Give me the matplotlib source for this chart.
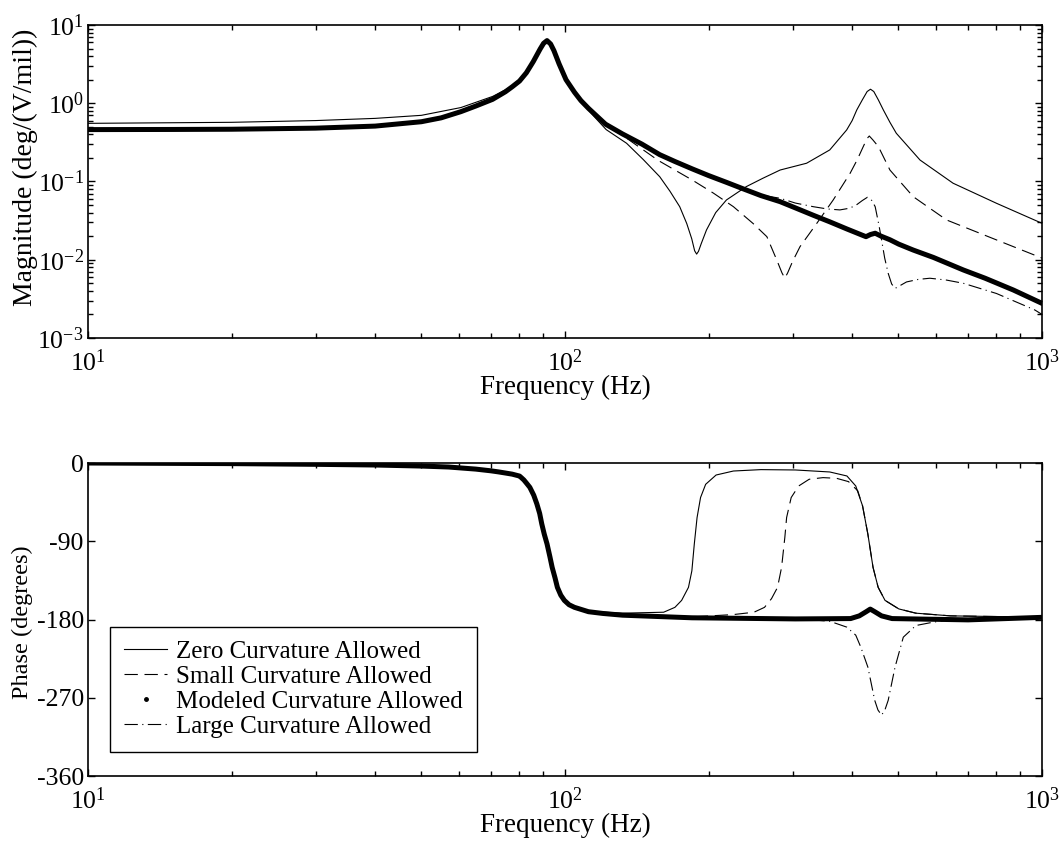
import numpy as np
import matplotlib.pyplot as plt
from matplotlib.lines import Line2D
from matplotlib.ticker import LogLocator, FixedLocator, NullFormatter

plt.rcParams['font.family'] = ['Liberation Serif', 'DejaVu Serif']
plt.rcParams['mathtext.fontset'] = 'custom'
plt.rcParams['mathtext.rm'] = 'Liberation Serif'
plt.rcParams['axes.unicode_minus'] = False
plt.rcParams['font.size'] = 18

# ---- magnitude data (Hz, deg/(V/mil)) ----
f_mag_zero = [10, 20, 30, 40, 50, 60.5, 70.5, 75, 77.5, 80.3, 83, 85.8, 88.7, 90.2, 91.7,
              93.3, 94.8, 97.2, 100.5, 104.7, 108, 115, 122, 134.6, 146, 158, 166, 174, 180,
              184.4, 187, 188.8, 190.5, 193, 198, 207, 218, 240, 260, 282.5, 321, 359,
              389.5, 400, 409, 420, 430, 437, 444, 454, 465, 480, 495, 555, 651, 803, 1000]
mag_zero = [0.553, 0.57, 0.60, 0.64, 0.70, 0.88, 1.22, 1.48, 1.66, 1.94, 2.45, 3.40, 4.93,
            5.83, 6.31, 5.71, 4.70, 3.18, 2.0, 1.38, 1.05, 0.68, 0.46, 0.308, 0.19, 0.115,
            0.075, 0.0476, 0.029, 0.0185, 0.013, 0.0118, 0.0128, 0.016, 0.024, 0.04, 0.058,
            0.086, 0.11, 0.14, 0.171, 0.253, 0.455, 0.6, 0.82, 1.10, 1.41, 1.51, 1.41, 1.10,
            0.82, 0.57, 0.413, 0.188, 0.095, 0.0526, 0.0292]

f_mag_small = [10, 20, 30, 40, 50, 60.5, 70.5, 75, 77.5, 80.3, 83, 85.8, 88.7, 90.2, 91.7,
               93.3, 94.8, 97.2, 100.5, 104.7, 108, 112, 121.6, 132.3, 157, 185, 204.7,
               225.5, 248, 265, 278, 285, 289, 293, 300, 311, 337, 365, 396, 410, 422, 430,
               434.5, 442, 454, 480, 537, 631, 803, 1000]
mag_small = [0.46, 0.465, 0.48, 0.51, 0.58, 0.78, 1.12, 1.40, 1.62, 1.92, 2.45, 3.40, 4.93,
             5.83, 6.31, 5.71, 4.70, 3.18, 2.0, 1.38, 1.08, 0.86, 0.52, 0.385, 0.185, 0.104,
             0.071, 0.0476, 0.029, 0.0197, 0.0099, 0.0068, 0.0058, 0.0068, 0.0095, 0.0147,
             0.029, 0.058, 0.127, 0.19, 0.279, 0.355, 0.381, 0.34, 0.279, 0.14, 0.064,
             0.0322, 0.0179, 0.0105]

f_mag_model = [10, 15, 20, 30, 40, 50, 55, 60.5, 65, 70.5, 75, 77.5, 80.3, 83, 85.8, 88.7,
               90.2, 91.7, 93.3, 94.8, 97.2, 100.5, 104.7, 108, 112, 121.6, 132, 145, 158,
               170, 185, 200, 218, 237, 257.5, 282.5, 304, 331.6, 359, 390, 419, 427.6, 437,
               447, 460, 480, 501, 537, 592, 684, 760, 871, 1000]
mag_model = [0.46, 0.462, 0.465, 0.48, 0.51, 0.58, 0.65, 0.78, 0.92, 1.12, 1.40, 1.62, 1.92,
             2.45, 3.40, 4.93, 5.83, 6.31, 5.71, 4.70, 3.18, 2.0, 1.38, 1.08, 0.86, 0.54,
             0.405, 0.30, 0.22, 0.18, 0.1445, 0.119, 0.0975, 0.08, 0.066, 0.0552, 0.046,
             0.037, 0.0305, 0.0247, 0.0207, 0.0197, 0.021, 0.0218, 0.0200, 0.018, 0.0158,
             0.0133, 0.0107, 0.0074, 0.0058, 0.0041, 0.00277]

f_mag_large = [10, 15, 20, 30, 40, 50, 55, 60.5, 65, 70.5, 75, 77.5, 80.3, 83, 85.8, 88.7,
               90.2, 91.7, 93.3, 94.8, 97.2, 100.5, 104.7, 108, 112, 121.6, 132, 145, 158,
               170, 185, 200, 218, 237, 257.5, 282.5, 304, 331.6, 355, 377, 395, 408, 420,
               430.5, 440, 447, 455, 461, 468, 476, 484, 492, 505, 520, 550, 582, 630, 684,
               803, 966, 1000]
mag_large = [0.46, 0.462, 0.465, 0.48, 0.51, 0.58, 0.65, 0.78, 0.92, 1.12, 1.40, 1.62, 1.92,
             2.45, 3.40, 4.93, 5.83, 6.31, 5.71, 4.70, 3.18, 2.0, 1.38, 1.08, 0.86, 0.54,
             0.405, 0.30, 0.22, 0.18, 0.1445, 0.119, 0.0975, 0.08, 0.067, 0.061, 0.053,
             0.0476, 0.0445, 0.0433, 0.0455, 0.050, 0.057, 0.0628, 0.057, 0.0476, 0.028,
             0.0179, 0.0105, 0.0067, 0.0049, 0.0043, 0.0047, 0.0052, 0.0056, 0.0058, 0.0055,
             0.005, 0.0037, 0.00228, 0.0020]

# ---- phase data (Hz, degrees) ----
f_ph_model = [10, 20, 30, 40, 50, 57, 65, 70, 72.5, 75, 77.5, 80.3, 81, 82, 83, 84.4, 86,
              87.3, 88.5, 89.4, 90.5, 91.7, 93, 94, 95.3, 96.4, 98, 99.7, 102, 104.7, 112,
              120, 132, 184.5, 304, 397, 414, 428, 436.5, 446, 461, 485, 700, 1000]
ph_model = [0, -0.7, -1.5, -2.3, -3.5, -4.6, -7, -9, -10.2, -11.5, -12.8, -15, -16.8, -19.5,
            -23, -28, -37, -47, -58, -70, -82, -93, -108, -120, -132, -143, -152, -158,
            -163, -166, -171, -173, -175, -178, -179.3, -178.9, -175.8, -171, -168, -171,
            -175.8, -178.9, -180.4, -177.5]

f_ph_zero = [10, 20, 30, 40, 50, 57, 65, 70, 72.5, 75, 77.5, 80.3, 81, 82, 83, 84.4, 86,
             87.3, 88.5, 89.4, 90.5, 91.7, 93, 94, 95.3, 96.4, 98, 99.7, 102, 104.7, 112,
             120, 132, 161, 170, 175.6, 181.5, 184.5, 186.7, 189.2, 192.4, 197.2, 207.4,
             225.5, 257.5, 304, 359, 390, 407, 420.6, 431.5, 442.4, 453.5, 468.8, 501, 544,
             643, 1000]
ph_zero = [0, -0.7, -1.5, -2.3, -3.5, -4.6, -7, -9, -10.2, -11.5, -12.8, -15, -16.8, -19.5,
           -23, -28, -37, -47, -58, -70, -82, -93, -108, -120, -132, -143, -152, -158, -163,
           -166, -170, -171.5, -172.7, -171.6, -166, -158, -143, -124, -93, -62.7, -39.7,
           -24.5, -13.8, -9.2, -7.6, -8, -10.3, -14.9, -26.4, -49.3, -81.8, -120, -143,
           -158, -167.8, -172.7, -175.8, -177.3]

f_ph_small = [10, 20, 30, 40, 50, 57, 65, 70, 72.5, 75, 77.5, 80.3, 81, 82, 83, 84.4, 86,
              87.3, 88.5, 89.4, 90.5, 91.7, 93, 94, 95.3, 96.4, 98, 99.7, 102, 104.7, 112,
              120, 132, 184.5, 225.5, 249, 262, 271, 279, 284.5, 289, 291.5, 298, 309, 325,
              347.5, 371, 393, 411, 420.6, 431.5, 442.4, 453.5, 468.8, 501, 544, 643, 1000]
ph_small = [0, -0.7, -1.5, -2.3, -3.5, -4.6, -7, -9, -10.2, -11.5, -12.8, -15, -16.8, -19.5,
            -23, -28, -37, -47, -58, -70, -82, -93, -108, -120, -132, -143, -152, -158,
            -163, -166, -171, -173, -175, -177, -174.3, -171.6, -166, -156, -143, -120,
            -85.6, -62.7, -39.7, -26.4, -18.7, -16.8, -17.6, -21.4, -32, -49.3, -81.8,
            -120, -143, -158, -167.8, -172.7, -175.8, -177.3]

f_ph_large = [10, 20, 30, 40, 50, 57, 65, 70, 72.5, 75, 77.5, 80.3, 81, 82, 83, 84.4, 86,
              87.3, 88.5, 89.4, 90.5, 91.7, 93, 94, 95.3, 96.4, 98, 99.7, 102, 104.7, 112,
              120, 132, 184.5, 304, 330, 359, 390, 407, 417, 431.5, 446, 453, 461, 468.5,
              476, 492, 512, 544, 592, 643, 700, 1000]
ph_large = [0, -0.7, -1.5, -2.3, -3.5, -4.6, -7, -9, -10.2, -11.5, -12.8, -15, -16.8, -19.5,
            -23, -28, -37, -47, -58, -70, -82, -93, -108, -120, -132, -143, -152, -158,
            -163, -166, -171, -173, -175, -178, -179.3, -180.4, -182, -188.8, -198, -211.7,
            -234.7, -272.9, -284, -290, -284, -272.9, -234.7, -200.3, -186.9, -183, -180.4,
            -180.4, -177.5]

labels = ['Zero Curvature Allowed', 'Small Curvature Allowed',
          'Modeled Curvature Allowed', 'Large Curvature Allowed']

thin = 0.8
dash = (0, (12, 6))
dashdot = (0, (12, 4, 1, 4))

fig = plt.figure(figsize=(10.6, 8.46), dpi=100)
ax_mag = fig.add_axes([0.0830, 0.6005, 0.9, 0.37])
ax_ph = fig.add_axes([0.0830, 0.0827, 0.9, 0.37])

# Magnitude
ax_mag.loglog(f_mag_zero, mag_zero, color='k', lw=thin)
ax_mag.loglog(f_mag_small, mag_small, color='k', lw=thin, linestyle=dash)
ax_mag.loglog(f_mag_large, mag_large, color='k', lw=thin, linestyle=dashdot)
ax_mag.loglog(f_mag_model, mag_model, color='k', lw=3.6,
              solid_capstyle='round', solid_joinstyle='round')
ax_mag.set_xlim(10, 1000)
ax_mag.set_ylim(1e-3, 10)
ax_mag.yaxis.set_major_locator(LogLocator(base=10, numticks=10))
ax_mag.yaxis.set_minor_locator(LogLocator(base=10, subs=np.arange(2, 10), numticks=10))
ax_mag.yaxis.set_minor_formatter(NullFormatter())
ax_mag.set_ylabel('Magnitude (deg/(V/mil))', fontsize=20)
ax_mag.yaxis.set_label_coords(-0.052, 0.545)
ax_mag.set_xlabel('Frequency (Hz)', fontsize=19.5)

# Phase
ax_ph.semilogx(f_ph_zero, ph_zero, color='k', lw=thin)
ax_ph.semilogx(f_ph_small, ph_small, color='k', lw=thin, linestyle=dash)
ax_ph.semilogx(f_ph_large, ph_large, color='k', lw=thin, linestyle=dashdot)
ax_ph.semilogx(f_ph_model, ph_model, color='k', lw=3.6,
               solid_capstyle='round', solid_joinstyle='round')
ax_ph.set_xlim(10, 1000)
ax_ph.set_ylim(-360, 0)
ax_ph.yaxis.set_major_locator(FixedLocator([0, -90, -180, -270, -360]))
ax_ph.set_ylabel('Phase (degrees)', fontsize=17.5)
ax_ph.yaxis.set_label_coords(-0.058, 0.49)
ax_ph.set_xlabel('Frequency (Hz)', fontsize=19.5)

for ax in (ax_mag, ax_ph):
    ax.xaxis.set_minor_formatter(NullFormatter())
    ax.xaxis.set_label_coords(0.5, -0.117)
    ax.tick_params(which='both', direction='in', top=True, right=True, width=1.0)
    ax.tick_params(which='major', length=5, labelsize=18.5)
    ax.tick_params(which='minor', length=3.5)
    ax.tick_params(axis='x', which='major', pad=8)
    ax.tick_params(axis='y', which='major', pad=3)
    for s in ax.spines.values():
        s.set_linewidth(1.2)

handles = [Line2D([], [], color='k', lw=thin),
           Line2D([], [], color='k', lw=thin, linestyle=dash),
           Line2D([], [], color='k', lw=0, marker='.', markersize=5),
           Line2D([], [], color='k', lw=thin, linestyle=dashdot)]
leg = ax_ph.legend(handles, labels, loc='lower left', bbox_to_anchor=(0.023, 0.077),
                   borderaxespad=0, fancybox=False, edgecolor='k', framealpha=1,
                   fontsize=18, handlelength=1.75, labelspacing=0.1,
                   borderpad=0.55, handletextpad=0.35)
leg.get_frame().set_linewidth(1.0)

fig.savefig('out.png', dpi=100)
